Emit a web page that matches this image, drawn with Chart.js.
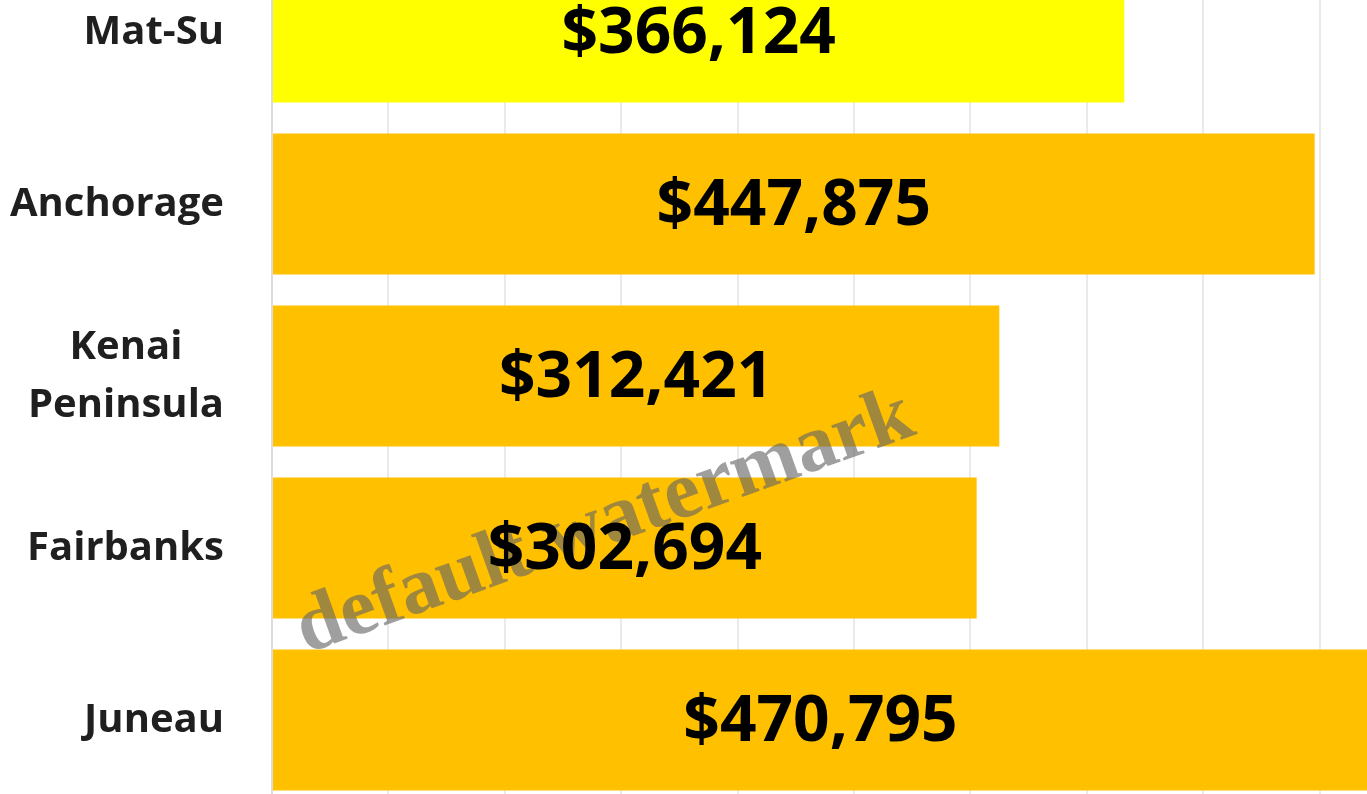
<!DOCTYPE html>
<html>
<head>
<meta charset="utf-8">
<script src="https://cdn.jsdelivr.net/npm/chart.js@4/dist/chart.umd.min.js"></script>
<style>
  html, body { margin: 0; padding: 0; background: #fff; overflow: hidden; width: 1367px; height: 794px; }
  #wrap { position: absolute; left: 0; top: -54px; width: 1436px; height: 860px; }
</style>
</head>
<body>
<div id="wrap"><canvas id="chart"></canvas></div>
<script>
const regions = [["Mat-Su"], ["Anchorage"], ["Kenai", "Peninsula"], ["Fairbanks"], ["Juneau"]];
const values = [366124, 447875, 312421, 302694, 470795];
const barColors = ["#FFFF00", "#FFC000", "#FFC000", "#FFC000", "#FFC000"];
const axisMax = 500000;
const gridStep = 50000;

const money = (v) => "$" + v.toLocaleString("en-US");

// value labels, left labels and the watermark
const overlay = {
  id: "overlay",
  afterDatasetsDraw(chart) {
    const ctx = chart.ctx;
    const meta = chart.getDatasetMeta(0);
    const yScale = chart.scales.y;

    // category labels, block right-aligned, lines centred in the block
    ctx.save();
    ctx.fillStyle = "#1f1f1f";
    ctx.font = "bold 40px 'Open Sans'";
    ctx.textBaseline = "middle";
    ctx.textAlign = "center";
    regions.forEach((lines, i) => {
      const yc = yScale.getPixelForValue(i);
      const widths = lines.map((l) => ctx.measureText(l).width);
      const w = Math.max(...widths);
      const cx = 224 - w / 2;
      const lh = 58;
      lines.forEach((l, j) => {
        ctx.fillText(l, cx, yc + 1 + (j - (lines.length - 1) / 2) * lh);
      });
    });
    ctx.restore();

    // watermark (canvas is shifted up 54px)
    ctx.save();
    ctx.translate(605, 578);
    ctx.rotate(-0.345);
    ctx.font = "bold 81px 'Liberation Serif'";
    ctx.fillStyle = "rgba(100,100,100,0.62)";
    ctx.textAlign = "center";
    ctx.textBaseline = "middle";
    ctx.fillText("default watermark", 0, 0);
    ctx.restore();

    // values on the bars
    ctx.save();
    ctx.fillStyle = "#000";
    ctx.font = "bold 64px 'Open Sans'";
    ctx.textAlign = "center";
    ctx.textBaseline = "middle";
    meta.data.forEach((bar, i) => {
      const cx = (bar.base + bar.x) / 2;
      ctx.fillText(money(values[i]), cx, bar.y + 3);
    });
    ctx.restore();
  }
};

new Chart(document.getElementById("chart"), {
  type: "bar",
  data: {
    labels: regions,
    datasets: [{
      data: values,
      backgroundColor: barColors,
      borderWidth: 0,
      barPercentage: 0.82,
      categoryPercentage: 1
    }]
  },
  options: {
    indexAxis: "y",
    responsive: true,
    maintainAspectRatio: false,
    animation: false,
    layout: { padding: 0 },
    plugins: { legend: { display: false }, tooltip: { enabled: false } },
    scales: {
      x: {
        min: 0,
        max: axisMax,
        ticks: { display: false, stepSize: gridStep },
        grid: { color: "#eaeaea", lineWidth: 2, drawTicks: false },
        border: { display: false },
        afterFit(scale) { scale.height = 0; }
      },
      y: {
        ticks: { display: false },
        grid: { display: false, drawTicks: false },
        border: { display: true, color: "#dcdcdc", width: 2 },
        afterFit(scale) { scale.width = 272; }
      }
    }
  },
  plugins: [overlay]
});
</script>
</body>
</html>
